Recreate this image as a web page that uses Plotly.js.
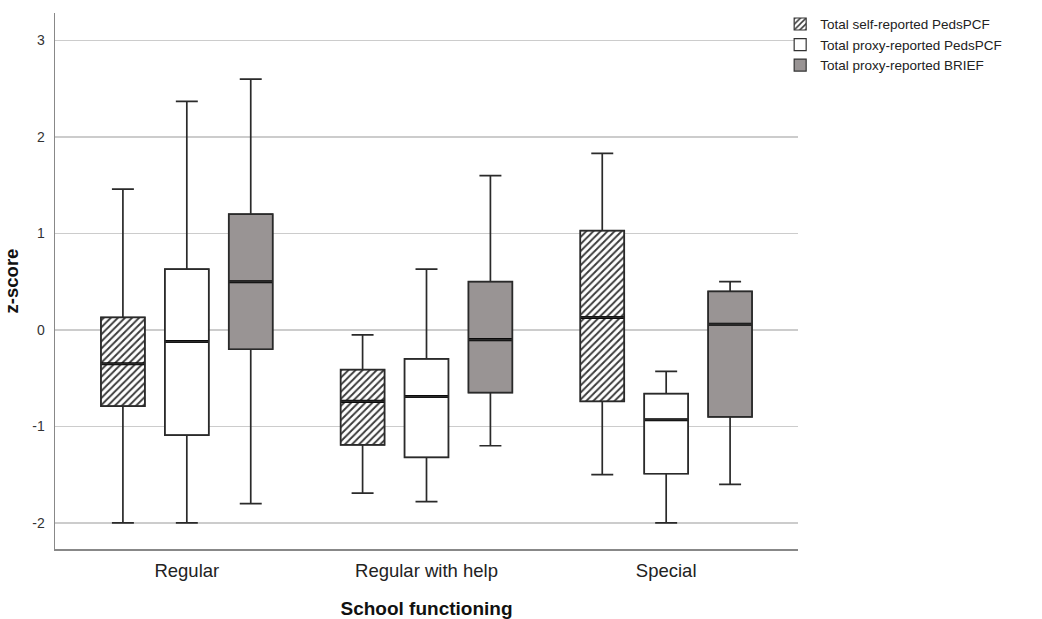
<!DOCTYPE html>
<html>
<head>
<meta charset="utf-8">
<script src="https://cdn.plot.ly/plotly-3.0.1.min.js"></script>
<style>html,body{margin:0;padding:0;background:#fff;}#chart{width:1042px;height:619px;}</style>
</head>
<body>
<div id="chart"></div>
<script>
// ---- data ----
const categories = ["Regular", "Regular with help", "Special"];
const seriesNames = ["Total self-reported PedsPCF", "Total proxy-reported PedsPCF", "Total proxy-reported BRIEF"];

const selfLower  = [-2.00, -1.69, -1.50];
const selfQ1     = [-0.79, -1.19, -0.74];
const selfMedian = [-0.35, -0.74,  0.13];
const selfQ3     = [ 0.13, -0.41,  1.03];
const selfUpper  = [ 1.46, -0.05,  1.83];

const proxyLower  = [-2.00, -1.78, -2.00];
const proxyQ1     = [-1.09, -1.32, -1.49];
const proxyMedian = [-0.12, -0.69, -0.93];
const proxyQ3     = [ 0.63, -0.30, -0.66];
const proxyUpper  = [ 2.37,  0.63, -0.43];

const briefLower  = [-1.80, -1.20, -1.60];
const briefQ1     = [-0.20, -0.65, -0.90];
const briefMedian = [ 0.50, -0.10,  0.06];
const briefQ3     = [ 1.20,  0.50,  0.40];
const briefUpper  = [ 2.60,  1.60,  0.50];

const yTickVals  = [-2, -1, 0, 1, 2, 3];
const yTickText  = ["-2", "-1", "0", "1", "2", "3"];

// ---- styling ----
const FONT = "Arial, 'Liberation Sans', sans-serif";
const series = [
  {name: seriesNames[0], lo: selfLower,  q1: selfQ1,  md: selfMedian,  q3: selfQ3,  hi: selfUpper,
   marker: {color: "#ffffff",
            pattern: {shape: "/", fgcolor: "#3a3a3a", bgcolor: "#ffffff", size: 5, solidity: 0.38}}},
  {name: seriesNames[1], lo: proxyLower, q1: proxyQ1, md: proxyMedian, q3: proxyQ3, hi: proxyUpper,
   marker: {color: "#ffffff"}},
  {name: seriesNames[2], lo: briefLower, q1: briefQ1, md: briefMedian, q3: briefQ3, hi: briefUpper,
   marker: {color: "#999494"}}
];
const MEDIAN_THICK = 0.032;

const traces = [];
// IQR fills (bars) – these also provide the legend symbols
series.forEach((s, i) => {
  traces.push({
    type: "bar", name: s.name, x: categories,
    base: s.q1, y: s.q3.map((v, k) => v - s.q1[k]),
    offsetgroup: "g" + i, marker: Object.assign({}, s.marker, {line: {width: 1.2, color: "#333"}}),
    showlegend: true, legendrank: i + 1, hoverinfo: "skip"
  });
});
// thick median lines
series.forEach((s, i) => {
  traces.push({
    type: "bar", x: categories,
    base: s.md.map(v => v - MEDIAN_THICK / 2), y: s.md.map(() => MEDIAN_THICK),
    offsetgroup: "g" + i, marker: {color: "#000000", line: {width: 0}},
    showlegend: false, hoverinfo: "skip"
  });
});
// whiskers and outlines (box traces with precomputed statistics)
series.forEach((s, i) => {
  traces.push({
    type: "box", name: s.name, x: categories, offsetgroup: "g" + i,
    q1: s.q1, median: s.md, q3: s.q3, lowerfence: s.lo, upperfence: s.hi,
    fillcolor: "rgba(0,0,0,0)", line: {color: "#2a2a2a", width: 1.7},
    whiskerwidth: 0.5, boxpoints: false, showlegend: false
  });
});

const layout = {
  width: 1042, height: 619,
  margin: {l: 55, r: 244, t: 13, b: 70, autoexpand: false},
  paper_bgcolor: "#ffffff", plot_bgcolor: "#ffffff",
  font: {family: FONT, color: "#222"},
  barmode: "group", bargap: 0.2, bargroupgap: 0.3125,
  boxmode: "group", boxgap: 0.2, boxgroupgap: 0.3125,
  showlegend: true,
  legend: {x: 0.976, xanchor: "left", y: 1.008, yanchor: "top",
           font: {family: FONT, size: 13.5, color: "#222"}, tracegroupgap: 0,
           bgcolor: "rgba(0,0,0,0)", itemclick: false},
  xaxis: {
    type: "category", range: [-0.55, 2.55],
    showline: true, linecolor: "#888", linewidth: 1.5,
    showgrid: false, zeroline: false, ticks: "",
    tickfont: {family: FONT, size: 18.5, color: "#222"}, ticklabelstandoff: 4,
    title: {text: "<b>School functioning</b>", font: {family: FONT, size: 19, color: "#111"}, standoff: 22}
  },
  yaxis: {
    range: [-2.27, 3.285],
    tickvals: yTickVals, ticktext: yTickText,
    showline: true, linecolor: "#888", linewidth: 1.5,
    showgrid: true, gridcolor: "#cccccc", gridwidth: 1.5,
    zeroline: false, ticks: "",
    tickfont: {family: FONT, size: 14, color: "#333"}, ticklabelstandoff: 6,
    title: {text: "<b>z-score</b>", font: {family: FONT, size: 18.5, color: "#111"}, standoff: 9}
  }
};

Plotly.newPlot("chart", traces, layout, {staticPlot: true, displayModeBar: false});
</script>
</body>
</html>
